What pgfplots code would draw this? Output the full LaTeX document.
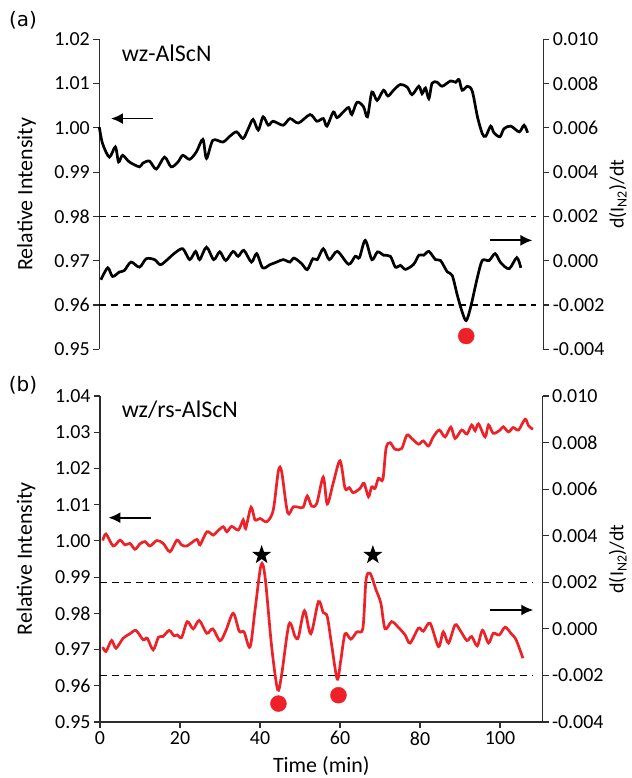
\documentclass[border=0pt]{standalone}
\usepackage{fontspec}
\setmainfont{Carlito}
\newfontfamily\dejavu{DejaVu Sans}
\usepackage{pgfplots}
\pgfplotsset{compat=1.18}
\usetikzlibrary{arrows.meta}

\definecolor{dotred}{RGB}{237,33,39}
\definecolor{axgray}{RGB}{45,45,45}

% filled five-point star
\pgfdeclareplotmark{fstar}{%
  \pgfpathmoveto{\pgfpointpolar{90}{\pgfplotmarksize}}%
  \pgfpathlineto{\pgfpointpolar{126}{0.4\pgfplotmarksize}}%
  \pgfpathlineto{\pgfpointpolar{162}{\pgfplotmarksize}}%
  \pgfpathlineto{\pgfpointpolar{198}{0.4\pgfplotmarksize}}%
  \pgfpathlineto{\pgfpointpolar{234}{\pgfplotmarksize}}%
  \pgfpathlineto{\pgfpointpolar{270}{0.4\pgfplotmarksize}}%
  \pgfpathlineto{\pgfpointpolar{306}{\pgfplotmarksize}}%
  \pgfpathlineto{\pgfpointpolar{342}{0.4\pgfplotmarksize}}%
  \pgfpathlineto{\pgfpointpolar{18}{\pgfplotmarksize}}%
  \pgfpathlineto{\pgfpointpolar{54}{0.4\pgfplotmarksize}}%
  \pgfpathclose
  \pgfusepathqfill}

\pgfplotsset{
  panel/.style={
    scale only axis, xmin=0, xmax=110.6,
    tick align=outside, major tick length=6bp,
    axis line style={axgray, line width=1.2bp},
    tick style={axgray, line width=1.2bp},
    ticklabel style={font=\fontsize{20}{24}\selectfont},
    label style={font=\fontsize{22}{26}\selectfont},
    /pgf/number format/assume math mode=true,
    scaled y ticks=false, clip=false,
  },
  leftax/.style={
    axis y line*=left,
    yticklabel style={/pgf/number format/.cd, fixed, fixed zerofill, precision=2},
    ylabel={Relative Intensity},
  },
  rightax/.style={
    axis y line*=right, hide x axis,
    ymin=-0.004, ymax=0.010,
    ytick={-0.004,-0.002,0,0.002,0.004,0.006,0.008,0.010},
    yticklabel style={/pgf/number format/.cd, fixed, fixed zerofill, precision=3},
    ylabel={d(I\textsubscript{N2})/dt},
    ylabel style={font=\fontsize{20}{24}\selectfont},
  },
  curve/.style={line width=2.7bp, smooth, tension=0.5},
  arr/.style={-{Latex[length=12bp,width=11bp]}, line width=1.8bp, black},
  dash/.style={black, line width=1.4bp, dash pattern=on 7bp off 5bp},
  reddot/.style={only marks, mark=*, mark size=8bp, dotred, mark options={draw=none, fill=dotred}},
}

\begin{document}
\begin{tikzpicture}

% ---------------- panel (a) ----------------
\begin{axis}[panel, leftax, hide x axis,
  at={(0,0)}, anchor=south west, width=444bp, height=310bp,
  ymin=0.95, ymax=1.02,
  ytick={0.95,0.96,0.97,0.98,0.99,1.00,1.01,1.02},
  ylabel style={at={(axis description cs:-0.164,0.5)}, anchor=center},
]
\addplot[curve, black] coordinates {
(0,1.0002) (0.8,0.9965) (2.5,0.9934) (4,0.9957) (4.8,0.9923) (5.8,0.9938) (7.5,0.9923)
(10,0.9912) (10.8,0.992) (12.5,0.9925) (14.2,0.9907) (16.25,0.9934) (17.9,0.9912)
(19.6,0.9923) (20.8,0.9938) (22.5,0.9929) (24.2,0.9946) (25.8,0.9974) (26.7,0.9931)
(28.3,0.9972) (30.8,0.9968) (32.5,0.9981) (34.2,0.9991) (35.8,0.9976) (37.1,0.9998)
(38.3,1.0019) (39.6,0.9995) (40.8,1.0025) (42.1,1.0006) (43.3,1.0015) (45.8,1.0006)
(47.5,1.0021) (49.6,1.0011) (52.5,1.0030) (54.2,1.0015) (55.8,1.0021) (56.7,1.0004)
(58.3,1.0036) (59.2,1.0023) (60.8,1.0036) (62.1,1.0046) (62.9,1.003) (64.2,1.0058)
(65.8,1.0048) (66.8,1.0025) (67.9,1.0081) (69.2,1.0062) (70.8,1.0085) (71.9,1.0072)
(73.3,1.0085) (75,1.0098) (76.7,1.0092) (77.9,1.0075) (79.6,1.0094) (80.4,1.0077)
(81.25,1.009) (82.1,1.0066) (82.9,1.0101) (84.2,1.0103) (85.4,1.0094) (87.5,1.0106)
(88.75,1.0103) (89.6,1.0109) (90.4,1.0085) (91.7,1.0094) (92.9,1.0083) (94.2,1.0025)
(95.4,0.9987) (96.25,0.9981) (97.5,1.0004) (98.3,0.9989) (99.8,0.998) (100.8,0.9998)
(102.5,1.0004) (104.6,0.9991) (105.8,1.0006) (106.7,0.9989)
};
\addplot[arr] coordinates {(13.3,1.0021) (2.9,1.0021)};
\node[anchor=west, inner sep=0pt, font=\fontsize{24}{28}\selectfont]
  at (axis cs:5.6,1.0169) {wz-AlScN};
\end{axis}

\begin{axis}[panel, rightax,
  at={(0,0)}, anchor=south west, width=444bp, height=310bp,
  ylabel style={at={(axis description cs:1.168,0.5)}, anchor=center},
]
\addplot[dash] coordinates {(0,0.002) (108.8,0.002)};
\addplot[dash] coordinates {(0,-0.002) (108.8,-0.002)};
\addplot[curve, black] coordinates {
(0.4,-0.00086) (2.1,-0.00032) (3.3,-0.00071) (5,-0.00051) (6.25,-0.00044) (7.9,-0.00006)
(10,-0.00029) (11.7,0.00009) (13.75,0.00005) (15.2,-0.00018) (16.7,0.00001) (18.75,0.00034)
(20.8,0.00054) (22.5,0.00005) (24,0.00042) (25,0.00005) (26.7,0.00061) (28.5,0.00005)
(30,0.0004) (31.5,0.00001) (33.3,0.00042) (34.6,0.0002) (36,0.00047) (37.9,-0.00006)
(39.2,0.00032) (40.7,-0.00032) (42.5,-0.00018) (44.2,-0.00006) (45.8,0.00005) (47.5,-0.00006)
(48.5,0.00012) (50.4,-0.00013) (51.8,-0.0004) (53.2,0.00009) (54.3,0.00005) (55.8,0.00054)
(57.3,0.00005) (59.3,0.00042) (62.1,-0.00016) (63.75,0.0002) (64.8,0.00014) (66.25,0.00092)
(67.9,0.00005) (69.3,0.0004) (70.8,0.00025) (72.5,0.0002) (73.75,-0.00029) (75,-0.00021)
(76.25,-0.00039) (78.3,-0.00016) (79.6,0.00025) (80.8,0.00025) (82.1,0.00042) (83.75,0.00005)
(85,0.00001) (86.7,-0.00051) (87.9,-0.00066) (89.2,-0.00157) (90.4,-0.00232) (91.4,-0.0027)
(92.5,-0.0021) (94.2,-0.00074) (95.4,0.00001) (97.1,0.00001) (98.6,0.00032) (100,-0.00009)
(102.1,-0.00036) (104,0.00014) (105,-0.00032)
};
\addplot[reddot] coordinates {(91.4,-0.0034)};
\addplot[arr] coordinates {(97.3,0.00092) (107.9,0.00092)};
\end{axis}

% ---------------- panel (b) ----------------
\begin{axis}[panel, leftax,
  at={(0.7bp,-46.7bp)}, anchor=north west, width=442.5bp, height=326bp,
  ymin=0.95, ymax=1.04,
  ytick={0.95,0.96,0.97,0.98,0.99,1.00,1.01,1.02,1.03,1.04},
  axis x line*=bottom,
  xtick={0,20,40,60,80,100},
  xlabel={Time (min)},
  xlabel style={at={(axis description cs:0.5,-0.135)}, anchor=center},
  ylabel style={at={(axis description cs:-0.167,0.5)}, anchor=center},
]
\addplot[curve, dotred] coordinates {
(0.7,1.0001) (1.5,1.0019) (3.3,0.9986) (5,1.0002) (6.25,0.9989) (7.5,0.9993) (8.75,0.9977)
(10,0.9992) (11.25,0.9998) (12.5,0.9986) (14.2,1.0001) (15.8,0.9993) (17.5,0.997)
(19.2,1.0002) (20.4,0.9989) (21.7,0.9986) (24.2,1.0004) (25,0.9989) (26.7,1.0025)
(28.3,1.0016) (29.2,1.0025) (30.8,1.0039) (31.7,1.0025) (32.9,1.004) (34.6,1.003)
(35.8,1.0058) (36.4,1.0034) (37.75,1.0093) (38.75,1.0058) (40,1.0062) (41.7,1.0053)
(43.3,1.0085) (44.6,1.0194) (45.4,1.0191) (46.9,1.0078) (48.3,1.0094) (49.6,1.0093)
(50.8,1.0093) (51.8,1.0124) (52.9,1.0096) (54.2,1.0104) (55.8,1.0176) (56.8,1.0102)
(58.3,1.0160) (60,1.0221) (61.25,1.0145) (62.3,1.0147) (63.3,1.0133) (65,1.0145)
(66,1.0159) (67.1,1.0122) (67.9,1.0149) (68.75,1.0145) (69.6,1.0173) (70.7,1.017)
(71.5,1.0256) (72.5,1.0271) (73.75,1.0253) (75.4,1.0255) (76.7,1.0292) (77.9,1.0283)
(79.6,1.0267) (80.8,1.0276) (82.1,1.0262) (83.3,1.0287) (84.8,1.0306) (86.25,1.0287)
(87.7,1.0314) (88.75,1.0283) (90.4,1.0306) (91.7,1.0295) (92.9,1.032) (93.75,1.0304)
(94.6,1.0323) (96.25,1.0287) (97.1,1.032) (98.3,1.0297) (100,1.0306) (100.8,1.0315)
(102.1,1.0301) (103.3,1.0313) (104.6,1.0306) (106.25,1.0336) (107.1,1.0318) (108.2,1.0308)
};
\addplot[arr] coordinates {(12.75,1.0064) (2.1,1.0064)};
\node[anchor=west, inner sep=0pt, font=\fontsize{24}{28}\selectfont]
  at (axis cs:5.4,1.0363) {wz/rs-AlScN};
\end{axis}

\begin{axis}[panel, rightax,
  at={(0.7bp,-46.7bp)}, anchor=north west, width=442.5bp, height=326bp,
  ylabel style={at={(axis description cs:1.170,0.5)}, anchor=center},
]
\addplot[dash] coordinates {(0,0.002) (108.3,0.002)};
\addplot[dash] coordinates {(0,-0.002) (108.3,-0.002)};
\addplot[curve, dotred] coordinates {
(0.7,-0.00078) (1.5,-0.00097) (2.9,-0.0005) (4,-0.00083) (5.8,-0.0004) (7.5,-0.00021)
(9,-0.00007) (10.8,-0.00047) (11.8,-0.0004) (13.3,-0.0009) (14.6,-0.00036) (15.7,-0.00033)
(17.3,-0.00007) (18.5,-0.0003) (19.3,-0.00026) (20.4,-0.00037) (21.8,0.00031) (23.3,0)
(24.8,0.00036) (26.7,-0.00019) (28.2,0) (30,-0.00051) (31.5,-0.00006) (33.3,0.00067)
(34.8,-0.0001) (36,-0.00013) (37.5,-0.00078) (38.75,0.00081) (40.25,0.00274) (41.25,0.00224)
(42.9,-0.00076) (44.4,-0.00261) (45.4,-0.00197) (47.25,0.00021) (48.75,-0.00033)
(49.6,-0.00035) (51.1,0.00078) (52.7,-0.00021) (54.6,0.00117) (55.8,0.0007) (56.8,0.00053)
(57.9,-0.00069) (59.3,-0.00216) (60.2,-0.00133) (61.25,-0.00021) (62.7,-0.00044)
(64.2,-0.00013) (65.7,0.00003) (66.5,0.0021) (67.5,0.00239) (69,0.00167) (70.2,0.0011)
(71.25,0) (72.9,0.00031) (74.6,0.00006) (76.25,-0.00026) (77.5,-0.00061) (79.6,0.00003)
(80.8,-0.0001) (82.5,0.00024) (84.6,-0.00076) (85.8,-0.00013) (87.1,-0.00061) (88.75,0.00017)
(90,-0.00006) (91.7,-0.0005) (92.9,-0.00033) (94.3,-0.00073) (95.6,-0.00006) (97.1,-0.00061)
(98.3,-0.00019) (99.8,-0.00026) (101.25,0.00007) (102.7,-0.00019) (104,-0.00047) (105.7,-0.00126)
};
\addplot[reddot] coordinates {(44.6,-0.00321) (59.6,-0.00285)};
\addplot[only marks, mark=fstar, mark size=10bp, black, mark options={fill=black}]
  coordinates {(40.4,0.00317) (68.2,0.00317)};
\addplot[arr] coordinates {(97.5,0.00081) (108.3,0.00081)};
\end{axis}

% panel tags
\node[font=\dejavu\fontsize{20}{24}\selectfont] at (-76.3bp,329.3bp) {(a)};
\node[font=\dejavu\fontsize{20}{24}\selectfont] at (-76.3bp,-35.7bp) {(b)};

\pgfresetboundingbox
\path[use as bounding box] (-99.3bp,-428.7bp) rectangle (532.7bp,349.3bp);
\end{tikzpicture}
\end{document}
